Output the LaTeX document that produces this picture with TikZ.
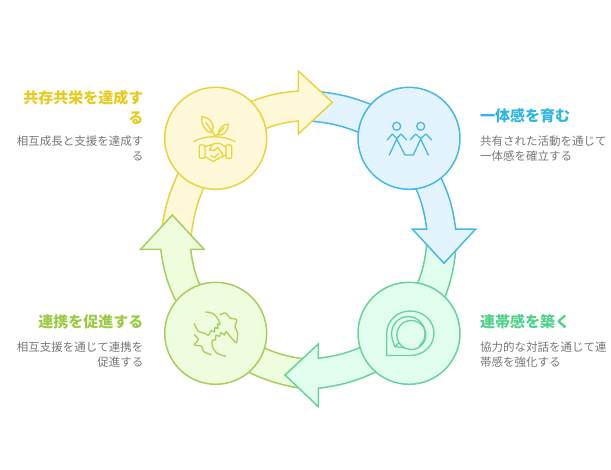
\documentclass[tikz,border=0pt]{standalone}
\usepackage{fontspec}
\usepackage{xcolor}
\usepackage{tikz}
\usetikzlibrary{positioning}
\newfontfamily\cjkfont{Noto Sans CJK JP}

\definecolor{yellowline}{HTML}{E8D43C}
\definecolor{yellowfill}{HTML}{FFF9DA}
\definecolor{yellowtext}{HTML}{E6CB1E}
\definecolor{blueline}{HTML}{45B9E2}
\definecolor{bluefill}{HTML}{E3F4FF}
\definecolor{bluetext}{HTML}{2FB6E6}
\definecolor{greenline}{HTML}{68D19C}
\definecolor{greenfill}{HTML}{E0FDEE}
\definecolor{greentext}{HTML}{4FD18C}
\definecolor{limeline}{HTML}{A6CE5A}
\definecolor{limefill}{HTML}{EEFDDD}
\definecolor{limetext}{HTML}{9DCA45}
\definecolor{desctext}{HTML}{777777}

\tikzset{
    hub/.style={draw, circle, minimum size=102pt, inner sep=0pt, outer sep=0pt, line width=1.5pt},
    band/.style={line width=1.5pt, line join=miter},
    icon/.style={line width=1.3pt, line cap=round, line join=round},
    titlenode/.style={font=\cjkfont\bfseries\fontsize{15}{20}\selectfont, inner sep=0pt},
    descnode/.style={font=\cjkfont\fontsize{11.5}{14.7}\selectfont, text=desctext, inner sep=0pt}
}

\begin{document}
\begin{tikzpicture}[x=1pt, y=-1pt]
        \useasboundingbox (0,0) rectangle (611,469);

        % Draw the tails, each one runs out from under a head
        \draw[band, draw=blueline, fill=bluefill] (310,91) to[bend left=9] (375,106) -- (365,135) to[bend right=9] (310,121) -- cycle;
        \draw[band, draw=greenline, fill=greenfill] (456.5,240) to[bend left=9] (442,305) -- (415,290) to[bend right=9] (427,240) -- cycle;
        \draw[band, draw=limeline, fill=limefill] (305,389) to[bend left=9] (240,368) -- (258,345) to[bend right=9] (305,359) -- cycle;
        \draw[band, draw=yellowline, fill=yellowfill] (160.5,240) to[bend left=10] (182,165) -- (207,180) to[bend right=9] (190.7,240) -- cycle;

        % Draw the heads
        \draw[band, draw=yellowline, fill=yellowfill] (245,104) to[bend left=9] (298.3,91) -- (298.3,71) -- (332.3,102.3) -- (298.3,134) -- (298.3,121) to[bend right=9] (260,131) -- cycle;
        \draw[band, draw=blueline, fill=bluefill] (437,170) to[bend left=10] (455.7,229) -- (475.7,229) -- (444,263.3) -- (412.3,229) -- (426.7,229) to[bend right=9] (412,180) -- cycle;
        \draw[band, draw=greenline, fill=greenfill] (380,370) to[bend left=9] (318.3,388.3) -- (318.3,406.7) -- (285,375) -- (318.3,344) -- (318.3,358.3) to[bend right=9] (370,343) -- cycle;
        \draw[band, draw=limeline, fill=limefill] (180,309) to[bend left=10] (160.7,249.3) -- (140.7,249.3) -- (172.3,215) -- (204,249.3) -- (190.7,249.3) to[bend right=9] (203,292) -- cycle;

        % Define the nodes
        \node[hub, draw=yellowline, fill=yellowfill] (coexist) at (215.7,138.3) {};
        \node[hub, draw=blueline, fill=bluefill, right=91.3pt of coexist] (unity) {};
        \node[hub, draw=greenline, fill=greenfill, below=93pt of unity] (bond) {};
        \node[hub, draw=limeline, fill=limefill, below=93pt of coexist] (link) {};

        % Plant and handshake
        \draw[icon, draw=yellowline] (193.3,141.7) .. controls (205,135) and (223,135) .. (235,141.7);
        \draw[icon, draw=yellowline] (201.7,116.7) .. controls (207,117) and (212,120) .. (213.3,126.7) .. controls (213.5,129) and (212.5,131) .. (210.7,132.7) .. controls (205,131.5) and (201,124) .. (201.7,116.7) -- cycle;
        \draw[icon, draw=yellowline] (206,122.5) -- (215.5,136.5) -- (224,127.5);
        \draw[icon, draw=yellowline] (228.3,124) .. controls (223,124.5) and (219,127) .. (218.3,135) .. controls (223,136) and (228,132) .. (228.3,124) -- cycle;
        \draw[icon, draw=yellowline, rounded corners=1pt] (199.3,145) rectangle (205,158.3);
        \draw[icon, draw=yellowline, rounded corners=1pt] (226,145) rectangle (231.7,158.3);
        \draw[icon, draw=yellowline] (205,146.7) -- (215,143.5) -- (220,143.5) -- (226,147.3);
        \draw[icon, draw=yellowline] (205,156.7) -- (213.3,161.5) -- (218.5,158.3) -- (226,155);
        \draw[icon, draw=yellowline] (212,144.5) -- (209.5,150) -- (214,150.5) -- (217.5,147.5) -- (222,153) -- (223,156);
        \draw[icon, draw=yellowline] (211,155.5) -- (214.5,157.5) -- (219,153);

        % Two figures holding hands
        \node[draw=blueline, circle, line width=1.3pt, minimum size=8pt, inner sep=0pt] (headleft) at (396.7,126.3) {};
        \node[draw=blueline, circle, line width=1.3pt, minimum size=8pt, inner sep=0pt] (headright) at (420.7,126.3) {};
        \draw[icon, draw=blueline] (387.3,140) -- (392.3,134) -- (396.7,138.5) -- (401,134) -- (406.7,140);
        \draw[icon, draw=blueline] (410,140) -- (415.7,134) -- (420.7,138.5) -- (426,134) -- (431.7,140);
        \draw[icon, draw=blueline] (389.3,155) -- (396.7,139) -- (405,155) -- (413.3,155) -- (420.7,139) -- (428.3,155);

        % Speech bubbles
        \draw[icon, draw=greenline] (386.7,355.5) -- (386.7,333.3) .. controls (386.7,321) and (397,311) .. (410.3,311) .. controls (423.5,311) and (434,321) .. (434,333.3) .. controls (434,345.5) and (423.5,355.5) .. (410.3,355.5) -- cycle;
        \draw[icon, draw=greenline] (395,346.7) .. controls (393,342) and (391.6,338) .. (391.6,333.3) .. controls (391.6,324.1) and (399.1,316.6) .. (408.3,316.6) .. controls (417.5,316.6) and (425,324.1) .. (425,333.3) .. controls (425,339) and (423,343) .. (419,346);
        \node[draw=greenline, circle, line width=1.3pt, minimum size=29pt, inner sep=0pt] (bubble) at (411.3,335) {};
        \draw[icon, draw=greenline] (399,342.5) -- (395,346.7) -- (405,348);

        % Interlocked hands
        \draw[icon, draw=limeline] plot[smooth] coordinates {(205.7,312) (213.3,313.7) (218.3,319.7) (220,324.7) (217.5,324) (218,328.5) (215,327.5) (214.5,332) (211.5,330.5) (208.3,335.3) (204.3,333) (198.3,331.3) (194.3,323.7)};
        \draw[icon, draw=limeline] plot[smooth] coordinates {(220,314.7) (225.7,313) (230,318) (236.7,319.7) (235,327) (237.7,333) (236.7,342.3)};
        \draw[icon, draw=limeline] plot[smooth] coordinates {(236,343) (230,336.3) (226,331.5) (224.5,335) (221,332.5) (219.5,336.5) (216,335) (215.5,340) (212.5,340) (212.3,346.3) (216.7,353) (225.7,356.3)};
        \draw[icon, draw=limeline] plot[smooth] coordinates {(194.3,334.7) (198.3,339.7) (194.3,344.7) (201.7,346.3) (203.3,351.3) (211,354.7)};

        % Labels
        \node[titlenode, text=yellowtext, align=right, anchor=north east] (coexisttitle) at (143.5,90) {共存共栄を達成す\\る};
        \node[descnode, align=right, anchor=north east] (coexistdesc) at (143.5,136) {相互成長と支援を達成す\\る};
        \node[titlenode, text=bluetext, align=left, anchor=north west] (unitytitle) at (480,108.5) {一体感を育む};
        \node[descnode, align=left, anchor=north west] (unitydesc) at (480,136) {共有された活動を通じて\\一体感を確立する};
        \node[titlenode, text=greentext, align=left, anchor=north west] (bondtitle) at (480,314) {連帯感を築く};
        \node[descnode, align=left, anchor=north west] (bonddesc) at (480,342) {協力的な対話を通じて連\\帯感を強化する};
        \node[titlenode, text=limetext, align=right, anchor=north east] (linktitle) at (143.5,314) {連携を促進する};
        \node[descnode, align=right, anchor=north east] (linkdesc) at (143.5,342) {相互支援を通じて連携を\\促進する};
    \end{tikzpicture}
\end{document}
